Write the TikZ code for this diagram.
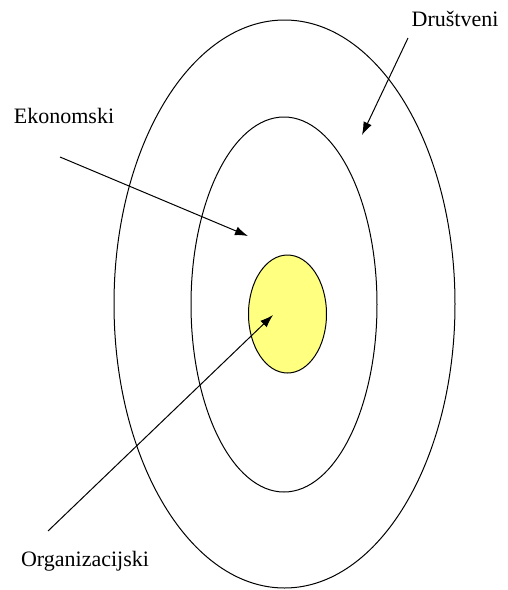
\documentclass[tikz,border=0pt]{standalone}
\usepackage{fontspec}
\setmainfont{Liberation Serif}
\usetikzlibrary{arrows.meta}
\begin{document}
\begin{tikzpicture}[x=1pt,y=-1pt,
  ring/.style={draw=black,line width=1pt},
  pointer/.style={draw=black,line width=1pt,-{Latex[length=13pt,width=9pt]}},
  lbl/.style={font=\fontsize{22}{26}\selectfont,inner sep=0pt}]
\useasboundingbox (0,0) rectangle (507,590);
\draw[ring] (284.5,304) ellipse [x radius=170.5, y radius=284];
\draw[ring] (284,304.5) ellipse [x radius=93, y radius=187.5];
\draw[ring,fill={rgb,255:red,255;green,255;blue,128}] (287.5,314) ellipse [x radius=39, y radius=59];
\node[lbl] (dr) at (455,19) {Društveni};
\node[lbl] (ek) at (64,116) {Ekonomski};
\node[lbl] (org) at (85,561) {Organizacijski};
\coordinate (drS) at (408,38);
\coordinate (drE) at (362,135);
\coordinate (ekS) at (60,157);
\coordinate (ekE) at (248,236);
\coordinate (orS) at (48,531);
\coordinate (orE) at (273,315);
\draw[pointer] (drS) -- (drE);
\draw[pointer] (ekS) -- (ekE);
\draw[pointer] (orS) -- (orE);
\end{tikzpicture}
\end{document}
